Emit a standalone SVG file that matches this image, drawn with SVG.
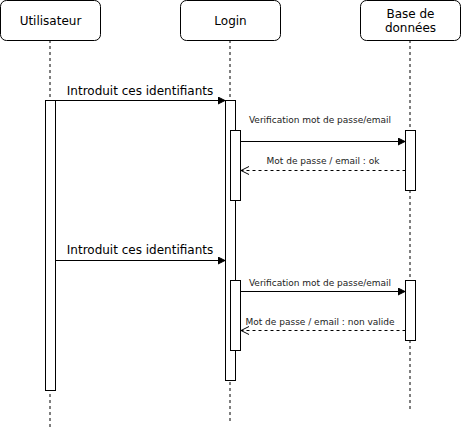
<svg xmlns="http://www.w3.org/2000/svg" width="461" height="432" viewBox="0 0 461 432">
<style>
.actor{fill:#fff;stroke:#000;stroke-width:1}
.life{stroke:#000;stroke-width:1;stroke-dasharray:3,3;fill:none}
.act{fill:#fff;stroke:#000;stroke-width:1}
.msg{stroke:#000;stroke-width:1;fill:none}
.ret{stroke:#000;stroke-width:1;fill:none;stroke-dasharray:3,3}
.t{font-family:"DejaVu Sans",Verdana,sans-serif;font-size:12px;fill:#000;text-anchor:middle}
.s{font-family:"DejaVu Sans",Verdana,sans-serif;font-size:9px;fill:#222;text-anchor:middle}
</style>
<defs>
<marker id="block" markerWidth="8" markerHeight="8" refX="7" refY="4" orient="auto" markerUnits="userSpaceOnUse">
<path d="M0,0.5 L7,4 L0,7.5 Z" fill="#000" stroke="#000"/>
</marker>
<marker id="open" markerWidth="10" markerHeight="10" refX="9" refY="5" orient="auto" markerUnits="userSpaceOnUse">
<path d="M1,1 L9,5 L1,9" fill="none" stroke="#000"/>
</marker>
</defs>
<g id="lifelines">
<line class="life" x1="50" y1="40" x2="50" y2="428"/>
<line class="life" x1="230" y1="40" x2="230" y2="421"/>
<line class="life" x1="410" y1="40" x2="410" y2="410"/>
</g>
<g id="utilisateur">
<rect class="actor" x="0.5" y="0.5" width="100" height="40" rx="6"/>
<text class="t" x="50.5" y="25">Utilisateur</text>
</g>
<g id="login">
<rect class="actor" x="180.5" y="0.5" width="100" height="40" rx="6"/>
<text class="t" x="230.5" y="25">Login</text>
</g>
<g id="bdd">
<rect class="actor" x="360.5" y="0.5" width="100" height="40" rx="6"/>
<text class="t" x="410.5" y="18">Base de</text>
<text class="t" x="410.5" y="32">données</text>
</g>
<g id="activations">
<rect class="act" x="45.5" y="100.5" width="10" height="290"/>
<rect class="act" x="225.5" y="100.5" width="10" height="280"/>
<rect class="act" x="230.5" y="130.5" width="10" height="70"/>
<rect class="act" x="405.5" y="130.5" width="10" height="60"/>
<rect class="act" x="230.5" y="280.5" width="10" height="70"/>
<rect class="act" x="405.5" y="280.5" width="10" height="60"/>
</g>
<g id="connectors">
<line class="msg" x1="55.5" y1="100.5" x2="225" y2="100.5" marker-end="url(#block)"/>
<line class="msg" x1="240.5" y1="141.5" x2="405" y2="141.5" marker-end="url(#block)"/>
<line class="ret" x1="405.5" y1="170.5" x2="241" y2="170.5" marker-end="url(#open)"/>
<line class="msg" x1="55.5" y1="260.5" x2="225" y2="260.5" marker-end="url(#block)"/>
<line class="msg" x1="240.5" y1="291.5" x2="405" y2="291.5" marker-end="url(#block)"/>
<line class="ret" x1="405.5" y1="330.5" x2="241" y2="330.5" marker-end="url(#open)"/>
</g>
<g id="labels">
<text class="t" x="140" y="95">Introduit ces identifiants</text>
<text class="s" x="320" y="123">Verification mot de passe/email</text>
<text class="s" x="323" y="164">Mot de passe / email : ok</text>
<text class="t" x="140" y="254">Introduit ces identifiants</text>
<text class="s" x="320" y="286">Verification mot de passe/email</text>
<text class="s" x="320" y="325">Mot de passe / email : non valide</text>
</g>
</svg>
